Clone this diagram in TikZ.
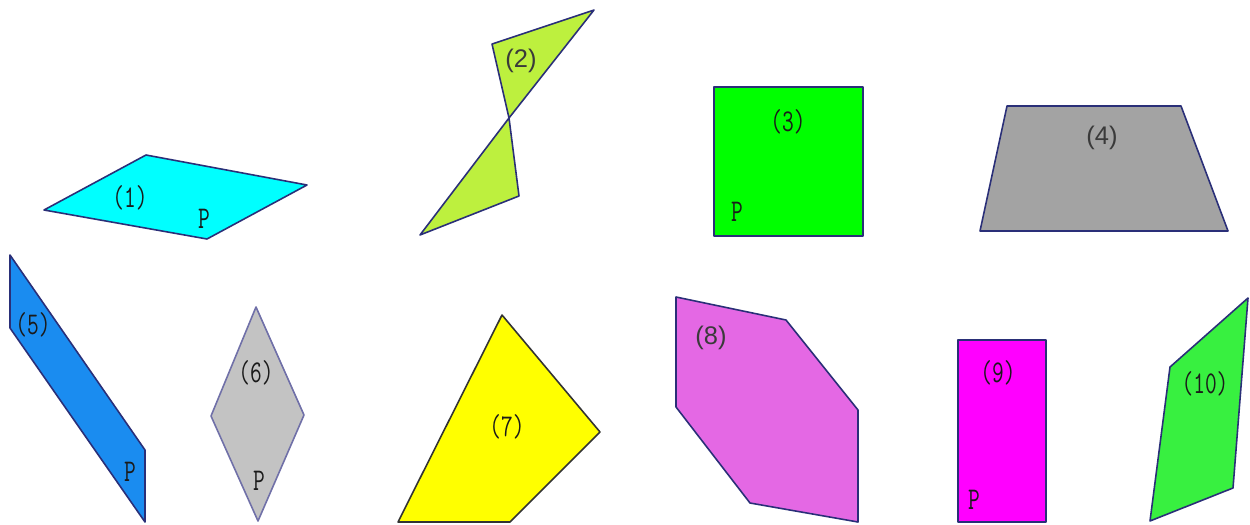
\documentclass[tikz,border=0pt]{standalone}
\usepackage{fontspec}
\usepackage{graphicx}
\setmainfont{Liberation Serif}
\newfontfamily\sansfnt{Liberation Sans}
\newcommand{\lbtxt}[1]{\scalebox{0.72}[1]{\ttfamily\fontsize{18}{18}\selectfont #1}}
\definecolor{cyanf}{HTML}{00FFFF}
\definecolor{limef}{HTML}{BDF03E}
\definecolor{greenf}{HTML}{00FF00}
\definecolor{grayf}{HTML}{A3A3A3}
\definecolor{bluef}{HTML}{1A8CF0}
\definecolor{lgrayf}{HTML}{C3C3C3}
\definecolor{yellowf}{HTML}{FFFF00}
\definecolor{orchidf}{HTML}{E468E4}
\definecolor{magentaf}{HTML}{FF00FF}
\definecolor{lgreenf}{HTML}{38F040}
\definecolor{edgec}{HTML}{2A2F78}
\definecolor{edgeg}{HTML}{7070A8}
\definecolor{textc}{HTML}{1A1A1A}
\definecolor{stextc}{HTML}{3A3A3A}
\tikzset{
  shapeedge/.style={draw=edgec, line width=0.9pt, line join=round},
  lbl/.style={text=textc, inner sep=0pt},
  slbl/.style={font=\sansfnt\fontsize{14.5}{14.5}\selectfont, text=stextc, inner sep=0pt},
}
\begin{document}
\begin{tikzpicture}[x=0.02cm, y=-0.02cm]
\useasboundingbox (0,0) rectangle (1250,524);
\fill[white] (0,0) rectangle (1250,524);
% (1)
\filldraw[shapeedge, fill=cyanf] (44,210) -- (146,155) -- (307,185) -- (207,239) -- cycle;
\node[lbl] (l1) at (130,198) {\lbtxt{(1)}};
\node[lbl] (p1) at (204,219) {\lbtxt{P}};
% (2)
\filldraw[shapeedge, fill=limef] (492,44) -- (594,10) -- (509,118) -- cycle;
\filldraw[shapeedge, fill=limef] (509,118) -- (519,196) -- (420,235) -- cycle;
\node[slbl] (l2) at (521,61) {(2)};
% (3)
\filldraw[shapeedge, fill=greenf] (714,87) rectangle (863,236);
\node[lbl] (l3) at (788,122) {\lbtxt{(3)}};
\node[lbl] (p3) at (737,212) {\lbtxt{P}};
% (4)
\filldraw[shapeedge, fill=grayf] (1007,106) -- (1181,106) -- (1228,231) -- (980,231) -- cycle;
\node[slbl] (l4) at (1102,138) {(4)};
% (5)
\filldraw[shapeedge, fill=bluef] (10,255) -- (145,450) -- (145,522) -- (10,328) -- cycle;
\node[lbl] (l5) at (33,325) {\lbtxt{(5)}};
\node[lbl] (p5) at (130,472) {\lbtxt{P}};
% (6)
\filldraw[shapeedge, draw=edgeg, fill=lgrayf] (256,307) -- (304,415) -- (258,521) -- (211,416) -- cycle;
\node[lbl] (l6) at (256,373) {\lbtxt{(6)}};
\node[lbl] (p6) at (259,481) {\lbtxt{P}};
% (7)
\filldraw[shapeedge, draw=black!80, fill=yellowf] (502,315) -- (600,432) -- (510,522) -- (398,522) -- cycle;
\node[lbl] (l7) at (507,427) {\lbtxt{(7)}};
% (8)
\filldraw[shapeedge, fill=orchidf] (676,297) -- (786,320) -- (858,410) -- (858,522) -- (750,503) -- (676,407) -- cycle;
\node[slbl] (l8) at (711,338) {(8)};
% (9)
\filldraw[shapeedge, fill=magentaf] (958,340) rectangle (1046,522);
\node[lbl] (l9) at (998,373) {\lbtxt{(9)}};
\node[lbl] (p9) at (974,500) {\lbtxt{P}};
% (10)
\filldraw[shapeedge, fill=lgreenf] (1248,298) -- (1233,488) -- (1150,521) -- (1170,367) -- cycle;
\node[lbl] (l10) at (1205,384) {\lbtxt{(10)}};
\end{tikzpicture}
\end{document}
